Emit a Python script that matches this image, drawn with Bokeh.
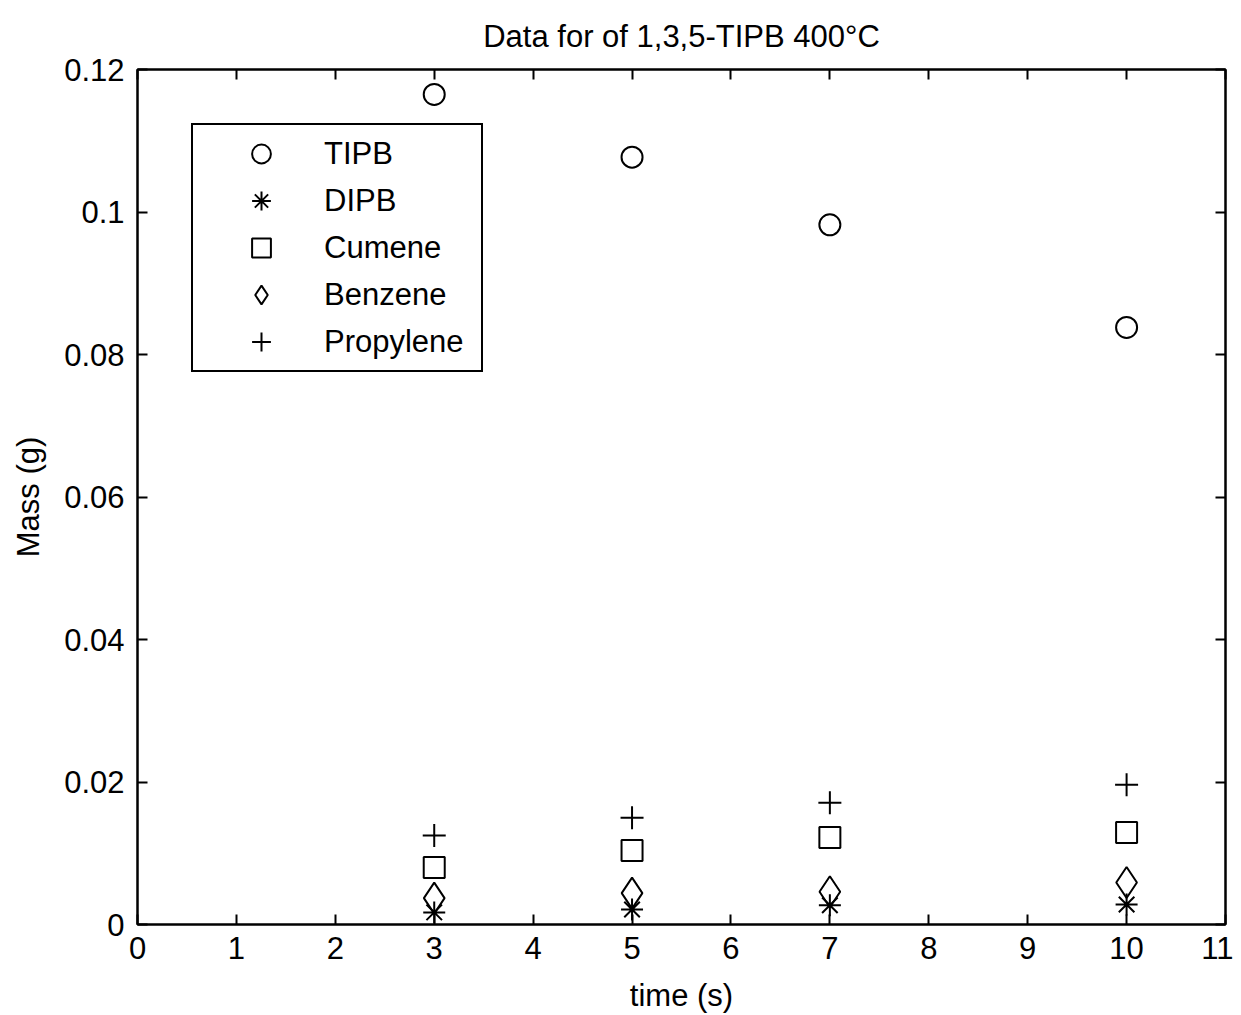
from bokeh.plotting import figure
from bokeh.models import Range1d, LinearAxis, FixedTicker, Legend, LegendItem, CustomJSTickFormatter
from bokeh.embed import file_html
from bokeh.resources import INLINE

time_s = [3, 5, 7, 10]
tipb = [0.1165, 0.1077, 0.0982, 0.0838]
dipb = [0.0017, 0.0021, 0.0027, 0.0028]
cumene = [0.0080, 0.0104, 0.0122, 0.0129]
benzene = [0.0037, 0.0044, 0.0046, 0.0059]
propylene = [0.0125, 0.0150, 0.0171, 0.0196]

x_ticks = list(range(0, 12))
y_ticks = [0, 0.02, 0.04, 0.06, 0.08, 0.1, 0.12]
y_tick_labels = ["0", "0.02", "0.04", "0.06", "0.08", "0.1", "0.12"]

FONT = "Liberation Sans"
FS = "31px"

p = figure(width=1233, height=1015, output_backend="svg", toolbar_location=None,
           x_range=Range1d(0, 11), y_range=Range1d(0, 0.12),
           min_border_left=137, min_border_right=8, min_border_top=69, min_border_bottom=91,
           title="Data for of 1,3,5-TIPB 400\u00b0C")
p.title.text_font = FONT
p.title.text_font_size = FS
p.title.text_font_style = "normal"
p.title.align = "center"
p.title.text_color = "black"
p.title.standoff = 31

p.xgrid.visible = False
p.ygrid.visible = False
p.outline_line_color = "black"
p.outline_line_width = 2
p.background_fill_color = "white"
p.border_fill_color = "white"

for ax in [p.xaxis[0], p.yaxis[0]]:
    ax.major_tick_in = 10
    ax.major_tick_out = 0
    ax.minor_tick_in = 0
    ax.minor_tick_out = 0
    ax.axis_line_width = 2
    ax.major_tick_line_width = 2
    ax.major_label_text_font = FONT
    ax.major_label_text_font_size = FS
    ax.major_label_text_color = "black"
    ax.axis_label_text_font = FONT
    ax.axis_label_text_font_size = FS
    ax.axis_label_text_font_style = "normal"
    ax.axis_label_text_color = "black"

p.xaxis[0].ticker = FixedTicker(ticks=x_ticks)
p.xaxis[0].major_label_standoff = 12
p.xaxis[0].axis_label = "time (s)"
p.xaxis[0].axis_label_standoff = 16
p.yaxis[0].ticker = FixedTicker(ticks=y_ticks)
p.yaxis[0].major_label_overrides = {t: l for t, l in zip(y_ticks, y_tick_labels)}
p.yaxis[0].major_label_standoff = 13
p.yaxis[0].axis_label = "Mass (g)"
p.yaxis[0].axis_label_standoff = 15

blank = CustomJSTickFormatter(code="return '';")
top_ax = LinearAxis(ticker=FixedTicker(ticks=x_ticks), formatter=blank)
right_ax = LinearAxis(ticker=FixedTicker(ticks=y_ticks), formatter=blank)
for ax in [top_ax, right_ax]:
    ax.major_tick_in = 10
    ax.major_tick_out = 0
    ax.minor_tick_in = 0
    ax.minor_tick_out = 0
    ax.axis_line_width = 2
    ax.major_tick_line_width = 2
    ax.major_label_standoff = 0
p.add_layout(top_ax, "above")
p.add_layout(right_ax, "right")

lw = 2
r1 = p.scatter(time_s, tipb, marker="circle", size=21, fill_color=None, line_color="black", line_width=lw)
r2 = p.scatter(time_s, dipb, marker="asterisk", size=22, line_color="black", line_width=lw)
r3 = p.scatter(time_s, cumene, marker="square", size=21, fill_color=None, line_color="black", line_width=lw)
r4 = p.scatter(time_s, benzene, marker="diamond", size=31, fill_color=None, line_color="black", line_width=lw)
r5 = p.scatter(time_s, propylene, marker="cross", size=23, line_color="black", line_width=lw)

legend = Legend(items=[
    LegendItem(label="TIPB", renderers=[r1]),
    LegendItem(label="DIPB", renderers=[r2]),
    LegendItem(label="Cumene", renderers=[r3]),
    LegendItem(label="Benzene", renderers=[r4]),
    LegendItem(label="Propylene", renderers=[r5]),
], location="top_left")
legend.margin = 54
legend.padding = 5
legend.spacing = 0
legend.glyph_width = 126
legend.glyph_height = 47
legend.label_height = 47
legend.label_width = 152
legend.label_standoff = 0
legend.label_text_font = FONT
legend.label_text_font_size = FS
legend.label_text_color = "black"
legend.border_line_color = "black"
legend.border_line_alpha = 1
legend.border_line_width = 2
legend.background_fill_color = "white"
legend.background_fill_alpha = 1
p.add_layout(legend, "center")

open("out.html", "w").write(file_html(p, INLINE))
